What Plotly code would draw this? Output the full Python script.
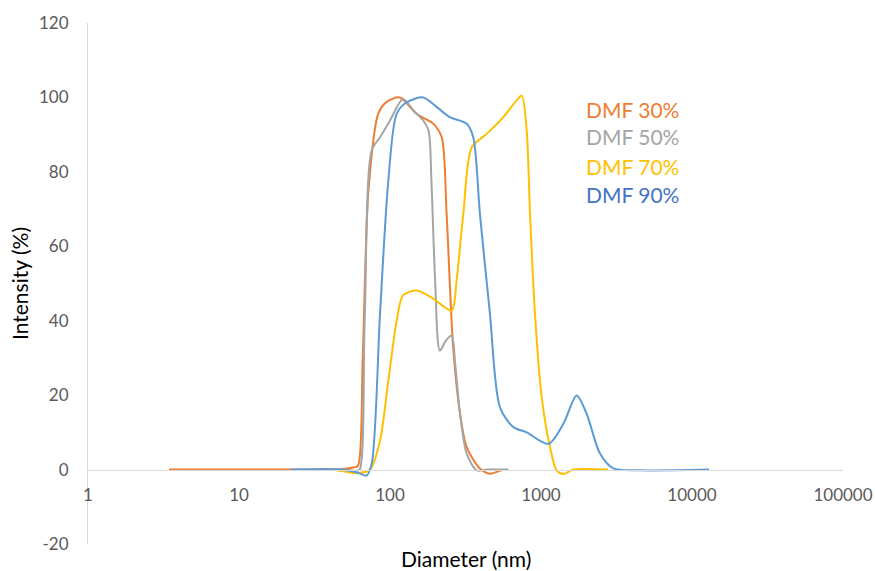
import plotly.graph_objects as go

# ---- data ----
d30 = [3.44, 20, 50, 58, 61.4, 66, 72, 83.7, 95, 116, 150, 194, 220, 237, 262, 291, 322, 394, 459, 535, 560]
i30 = [0.0, 0.0, 0.2, 0.6, 1.0, 30, 75, 95.7, 98.8, 100, 95.6, 92.9, 89.3, 68.8, 32.9, 15, 6, 0.3, -1.1, -0.3, 0.0]

d50 = [30, 50, 60, 63, 68, 75.7, 85.9, 100, 122, 143, 166, 180, 188, 199, 214, 235, 256, 270, 291, 322, 375, 437, 609]
i50 = [0.0, 0.0, -0.3, 0.0, 40, 85.8, 89.3, 93.8, 99.6, 96.5, 93.8, 91.1, 77.7, 50.8, 32.0, 34.7, 36.0, 28.5, 15, 4.3, -0.2, 0.0, 0.0]

d70 = [40, 50, 60, 73.8, 85.9, 97.5, 110.7, 122, 150, 194, 256, 276, 306, 348, 437, 563, 690, 746, 804, 846, 912, 1011, 1148, 1271, 1407, 1637, 2778]
i70 = [0.0, -0.5, -1.0, 0.0, 7.8, 23.9, 40.0, 46.8, 48.1, 45.9, 42.7, 50.8, 68.8, 86.6, 90.2, 94.7, 99.2, 100.5, 91.1, 68.8, 41.9, 19.4, 6.0, -0.3, -1.2, 0.0, 0.0]

d90 = [22, 45, 55, 62, 70, 75.7, 85.9, 97.5, 110.7, 129, 166, 204, 249, 322, 356, 394, 459, 535, 656, 804, 1119, 1407, 1722, 2005, 2459, 3013, 4500, 12970]
i90 = [0.0, 0.0, -0.4, -0.9, -1.6, 1.6, 41.9, 77.7, 95.6, 98.7, 100, 97.4, 94.7, 92.9, 89.3, 68.7, 41.9, 16.7, 11.4, 10.0, 6.9, 12.3, 19.9, 15.0, 4.3, 0.3, -0.2, 0.0]

series_names = ["DMF 30%", "DMF 50%", "DMF 70%", "DMF 90%"]
line_colors = ["#ED7D31", "#A5A5A5", "#FFC000", "#5B9BD5"]
label_colors = ["#ED7D31", "#A5A5A5", "#FFC000", "#4472C4"]

x_tick_vals = [1, 10, 100, 1000, 10000, 100000]
x_tick_text = ["1", "10", "100", "1000", "10000", "100000"]
y_tick_vals = [-20, 0, 20, 40, 60, 80, 100, 120]
y_tick_text = ["-20", "0", "20", "40", "60", "80", "100", "120"]

FONT = "Lato"
AXIS_GRAY = "#D9D9D9"

fig = go.Figure()
for xs, ys, name, col in zip([d30, d50, d70, d90], [i30, i50, i70, i90], series_names, line_colors):
    fig.add_trace(go.Scatter(x=xs, y=ys, mode="lines", name=name,
                             line=dict(color=col, width=2, shape="spline", smoothing=0.8),
                             showlegend=False))

# legend-like labels
label_y = [0.834, 0.783, 0.725, 0.671]
for name, col, yy in zip(series_names, label_colors, label_y):
    fig.add_annotation(text=name, xref="paper", yref="paper", x=0.657, y=yy,
                       xanchor="left", yanchor="middle", showarrow=False,
                       font=dict(family=FONT, size=21, color=col))

# x-axis title at bottom
fig.add_annotation(text="Diameter (nm)", xref="paper", yref="paper", x=0.5, y=-0.028,
                   xanchor="center", yanchor="middle", showarrow=False,
                   font=dict(family=FONT, size=21, color="#000000"))

zero_frac = 20 / 140
fig.update_layout(
    width=875, height=571,
    margin=dict(l=88, r=32, t=23, b=27),
    paper_bgcolor="white", plot_bgcolor="white",
    font=dict(family=FONT, size=17, color="#595959"),
    xaxis=dict(type="log", range=[0, 5], tickvals=x_tick_vals, ticktext=x_tick_text,
               automargin=False,
               showgrid=False, zeroline=False, showline=True, linecolor=AXIS_GRAY, linewidth=1,
               anchor="free", position=zero_frac, ticks="outside", ticklen=10,
               tickcolor="rgba(0,0,0,0)", tickfont=dict(family=FONT, size=17, color="#595959")),
    yaxis=dict(range=[-20, 120], tickvals=y_tick_vals, ticktext=y_tick_text,
               automargin=False,
               showgrid=False, zeroline=False, showline=True, linecolor=AXIS_GRAY, linewidth=1,
               ticks="outside", ticklen=15, tickcolor="rgba(0,0,0,0)",
               tickfont=dict(family=FONT, size=17, color="#595959"),
               title=dict(text="Intensity (%)", font=dict(family=FONT, size=21, color="#000000"),
                          standoff=4)),
)

fig.write_html("out.html")
